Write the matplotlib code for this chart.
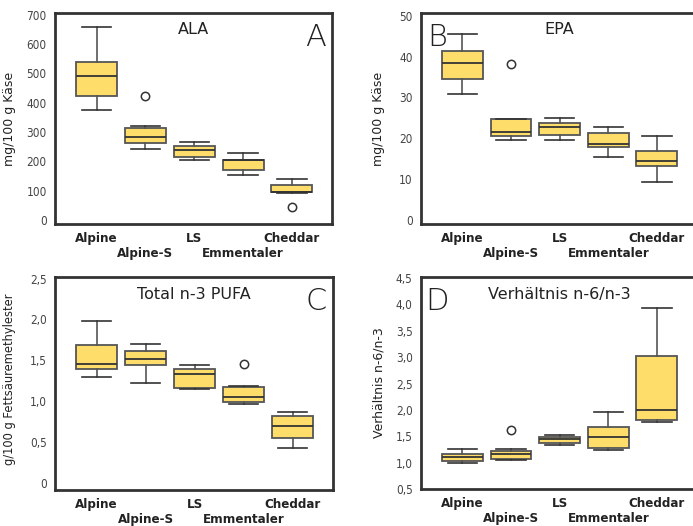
import matplotlib
matplotlib.use("Agg")
import matplotlib.pyplot as plt

kaese = ["Alpine", "Alpine-S", "LS", "Emmentaler", "Cheddar"]

# je Sorte: untere Antenne, Q1, Median, Q3, obere Antenne
ala_low = [376, 242, 205, 155, 91]
ala_q1 = [423, 262, 216, 170, 95]
ala_med = [490, 282, 238, 205, 97]
ala_q3 = [538, 313, 253, 206, 119]
ala_high = [658, 319, 266, 230, 139]
ala_out = [[], [422], [], [], [43]]

epa_low = [30.9, 19.6, 19.6, 15.4, 9.2]
epa_q1 = [34.6, 20.5, 20.7, 17.9, 13.3]
epa_med = [38.4, 21.6, 22.8, 18.5, 14.4]
epa_q3 = [41.3, 24.8, 23.8, 21.2, 16.8]
epa_high = [45.5, 24.8, 25.0, 22.7, 20.5]
epa_out = [[], [38.2], [], [], []]

n3_low = [1.30, 1.225, 1.145, 0.96, 0.422]
n3_q1 = [1.39, 1.44, 1.165, 0.99, 0.552]
n3_med = [1.457, 1.51, 1.33, 1.05, 0.698]
n3_q3 = [1.69, 1.61, 1.39, 1.17, 0.816]
n3_high = [1.98, 1.70, 1.44, 1.19, 0.864]
n3_out = [[], [], [], [1.45], []]

ratio_low = [0.993, 1.043, 1.34, 1.233, 1.776]
ratio_q1 = [1.037, 1.075, 1.378, 1.277, 1.814]
ratio_med = [1.107, 1.157, 1.454, 1.49, 1.99]
ratio_q3 = [1.157, 1.214, 1.49, 1.675, 3.03]
ratio_high = [1.265, 1.265, 1.53, 1.966, 3.93]
ratio_out = [[], [1.625], [], [], []]

BOX = "#FFDD6B"
EDGE = "#555555"


def stats(low, q1, med, q3, high, out):
    res = []
    for i in range(len(low)):
        res.append(dict(whislo=low[i], q1=q1[i], med=med[i], q3=q3[i],
                        whishi=high[i], fliers=out[i], label=kaese[i]))
    return res


def panel(rect, data, title, letter, lx, ylabel, ylim, yticks, yticklabels,
          ylabel_size=9):
    ax = fig.add_axes(rect)
    ax.bxp(stats(*data), positions=range(1, 6), widths=0.84,
           patch_artist=True,
           boxprops=dict(facecolor=BOX, edgecolor=EDGE, linewidth=1.3),
           medianprops=dict(color="#333333", linewidth=1.3),
           whiskerprops=dict(color=EDGE, linewidth=1.2),
           capprops=dict(color="#333333", linewidth=1.2),
           capwidths=0.6,
           flierprops=dict(marker="o", markersize=6, markerfacecolor="white",
                           markeredgecolor="#333333", markeredgewidth=1.1))
    ax.set_xlim(0.15, 5.82)
    ax.set_ylim(*ylim)
    ax.set_yticks(yticks)
    ax.set_yticklabels(yticklabels, fontsize=8.5, fontstretch="condensed",
                       color="#444444")
    labels = [k if i % 2 == 0 else "\n" + k for i, k in enumerate(kaese)]
    ax.set_xticks(range(1, 6))
    ax.set_xticklabels(labels, fontsize=9.5, fontweight="bold",
                       fontstretch="condensed", color="#222222",
                       linespacing=1.15)
    ax.tick_params(length=0, pad=6)
    for s in ax.spines.values():
        s.set_linewidth(2)
        s.set_color("#333333")
    ax.set_ylabel(ylabel, fontsize=ylabel_size, color="#222222")
    ax.text(0.5, 0.92, title, transform=ax.transAxes, ha="center",
            va="center", fontsize=11.5, color="#222222")
    ax.text(lx, 0.885, letter, transform=ax.transAxes, ha="center",
            va="center", fontsize=22, fontweight="light", color="#222222")
    return ax


fig = plt.figure(figsize=(6.93, 5.26), dpi=100)

a = panel([0.0794, 0.5741, 0.3997, 0.401],
          (ala_low, ala_q1, ala_med, ala_q3, ala_high, ala_out),
          "ALA", "A", 0.94, "mg/100 g Käse", (-14, 706),
          range(0, 701, 100), [str(v) for v in range(0, 701, 100)])
a.yaxis.set_label_coords(-0.14, 0.5)

b = panel([0.6075, 0.5741, 0.398, 0.401],
          (epa_low, epa_q1, epa_med, epa_q3, epa_high, epa_out),
          "EPA", "B", 0.058, "mg/100 g Käse", (-1.0, 50.65),
          range(0, 51, 10), [str(v) for v in range(0, 51, 10)])
b.yaxis.set_label_coords(-0.13, 0.5)

c = panel([0.0794, 0.0684, 0.4011, 0.405],
          (n3_low, n3_q1, n3_med, n3_q3, n3_high, n3_out),
          "Total n-3 PUFA", "C", 0.94, "g/100 g Fettsäuremethylester",
          (-0.09, 2.52), [0, 0.5, 1, 1.5, 2, 2.5],
          ["0", "0,5", "1,0", "1,5", "2,0", "2,5"], ylabel_size=8.3)
c.yaxis.set_label_coords(-0.14, 0.52)

d = panel([0.6075, 0.0703, 0.398, 0.403],
          (ratio_low, ratio_q1, ratio_med, ratio_q3, ratio_high, ratio_out),
          "Verhältnis n-6/n-3", "D", 0.058, "Verhältnis n-6/n-3",
          (0.5, 4.52), [0.5, 1, 1.5, 2, 2.5, 3, 3.5, 4, 4.5],
          ["0,5", "1,0", "1,5", "2,0", "2,5", "3,0", "3,5", "4,0", "4,5"])
d.yaxis.set_label_coords(-0.13, 0.5)

fig.savefig("out.png", dpi=100)
